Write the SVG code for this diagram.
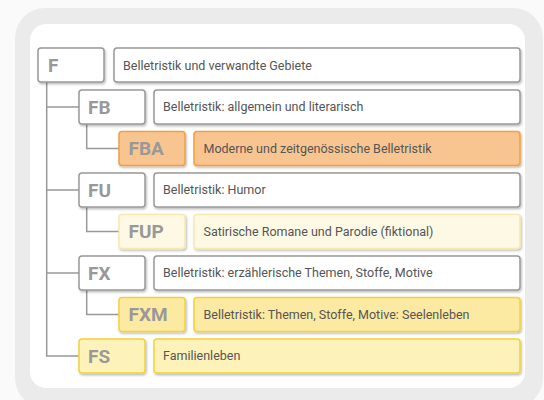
<svg xmlns="http://www.w3.org/2000/svg" width="544" height="400" viewBox="0 0 544 400">
<defs>
<filter id="sh" x="-10%" y="-20%" width="130%" height="160%">
<feDropShadow dx="1" dy="1.5" stdDeviation="1.2" flood-color="#000" flood-opacity="0.28"/>
</filter>
<style>
.code{font-family:Roboto,"Liberation Sans",sans-serif;font-weight:bold;font-size:19px;fill:#999}
.lbl{font-family:Roboto,"Liberation Sans",sans-serif;font-size:12.5px;fill:#555}
.w{fill:#fff;stroke:#999;stroke-width:1.5}
.o{fill:#F8C591;stroke:#F0A043;stroke-width:1.5}
.c{fill:#FEF9E4;stroke:#F6E9AE;stroke-width:1.5}
.y{fill:#FCEAA2;stroke:#F2D23A;stroke-width:1.5}
.y2{fill:#FDF2B9;stroke:#F2D23A;stroke-width:1.5}
.b{filter:url(#sh)}
.ln{fill:none;stroke:#999;stroke-width:1.5}
</style>
</defs>
<rect x="0" y="0" width="544" height="400" fill="#fafafa"/>
<rect x="15" y="8" width="528" height="400" rx="30" fill="#ebebeb"/>
<rect x="30" y="24" width="495" height="364" rx="16" fill="#fff"/>
<g id="connectors">
<path class="ln" d="M46.7 82 V356 H79 M46.7 107 H79 M46.7 190 H79 M46.7 273 H79"/>
<path class="ln" d="M86.7 124 V148.5 H119 M86.7 207 V231.5 H119 M86.7 290 V314.5 H119"/>
</g>
<g id="F">
<rect class="w b" x="38" y="48" width="66" height="34" rx="3"/>
<text class="code" x="48" y="72">F</text>
<rect class="w b" x="114" y="48" width="406" height="34" rx="3"/>
<text class="lbl" x="123" y="69.5">Belletristik und verwandte Gebiete</text>
</g>
<g id="FB">
<rect class="w b" x="79" y="90" width="66" height="34" rx="3"/>
<text class="code" x="88" y="113.5">FB</text>
<rect class="w b" x="154" y="90" width="366" height="34" rx="3"/>
<text class="lbl" x="163" y="111">Belletristik: allgemein und literarisch</text>
</g>
<g id="FBA">
<rect class="o b" x="119" y="131.5" width="66" height="34" rx="3"/>
<text class="code" x="128.5" y="155">FBA</text>
<rect class="o b" x="194" y="131.5" width="326" height="34" rx="3"/>
<text class="lbl" x="203.5" y="152.5">Moderne und zeitgenössische Belletristik</text>
</g>
<g id="FU">
<rect class="w b" x="79" y="173" width="66" height="34" rx="3"/>
<text class="code" x="88" y="196.5">FU</text>
<rect class="w b" x="154" y="173" width="366" height="34" rx="3"/>
<text class="lbl" x="163" y="194">Belletristik: Humor</text>
</g>
<g id="FUP">
<rect class="c b" x="119" y="214.5" width="66" height="34" rx="3"/>
<text class="code" x="128.5" y="238">FUP</text>
<rect class="c b" x="194" y="214.5" width="326" height="34" rx="3"/>
<text class="lbl" x="203.5" y="235.5">Satirische Romane und Parodie (fiktional)</text>
</g>
<g id="FX">
<rect class="w b" x="79" y="256" width="66" height="34" rx="3"/>
<text class="code" x="88" y="279.5">FX</text>
<rect class="w b" x="154" y="256" width="366" height="34" rx="3"/>
<text class="lbl" x="163" y="277">Belletristik: erzählerische Themen, Stoffe, Motive</text>
</g>
<g id="FXM">
<rect class="y b" x="119" y="297.5" width="66" height="34" rx="3"/>
<text class="code" x="128.5" y="321">FXM</text>
<rect class="y b" x="194" y="297.5" width="326" height="34" rx="3"/>
<text class="lbl" x="203.5" y="318.5">Belletristik: Themen, Stoffe, Motive: Seelenleben</text>
</g>
<g id="FS">
<rect class="y2 b" x="79" y="339" width="66" height="34" rx="3"/>
<text class="code" x="88" y="362.5">FS</text>
<rect class="y2 b" x="154" y="339" width="366" height="34" rx="3"/>
<text class="lbl" x="163" y="360">Familienleben</text>
</g>
</svg>
